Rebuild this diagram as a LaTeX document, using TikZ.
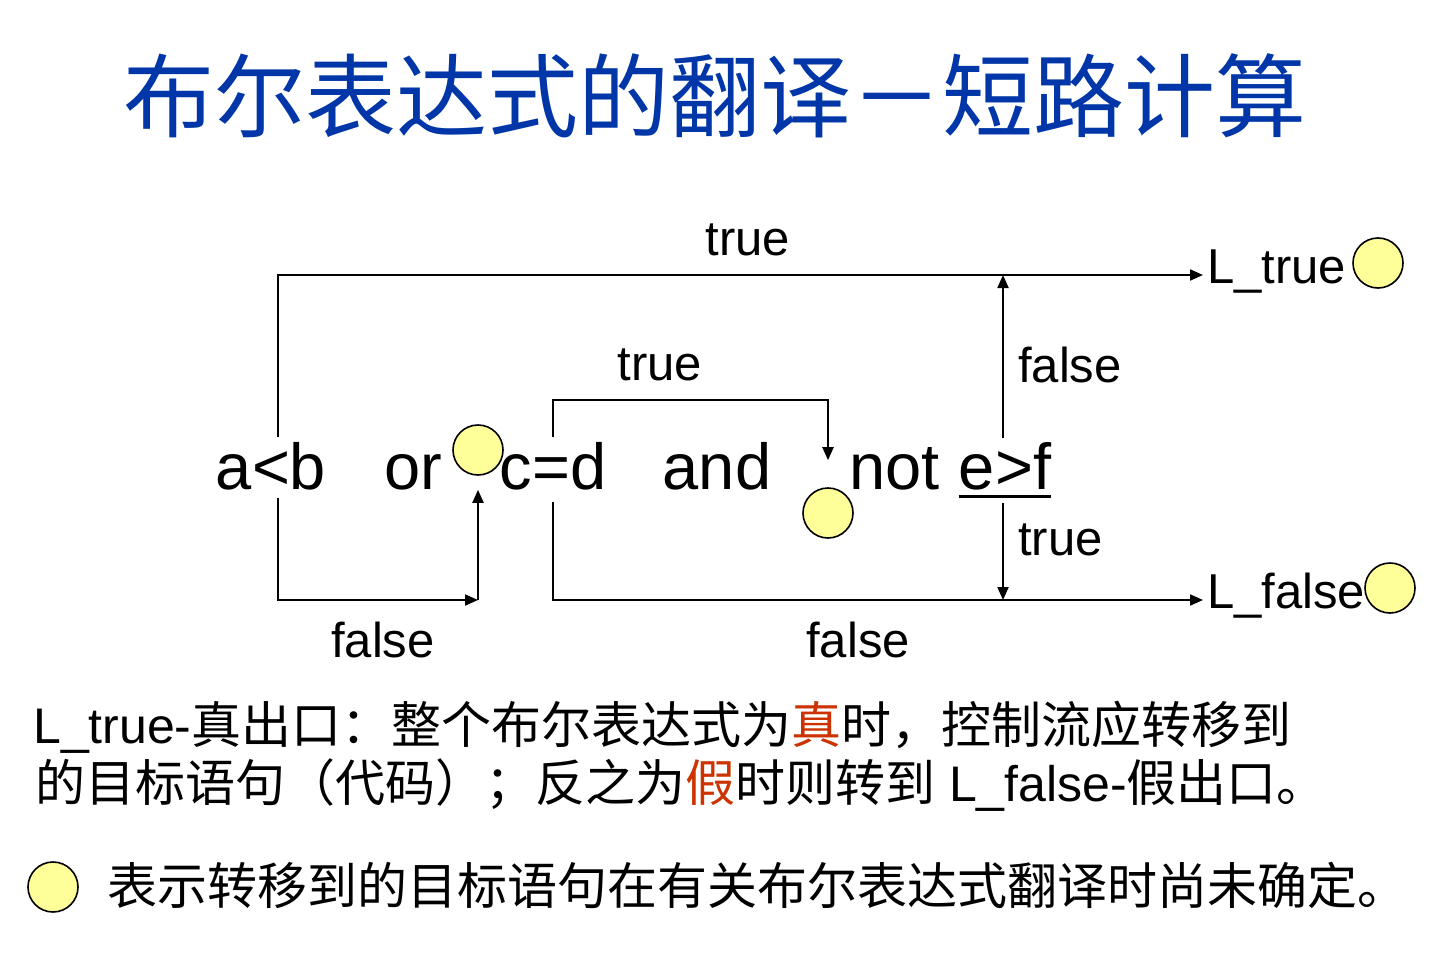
\documentclass[tikz,border=0pt]{standalone}
\usepackage{fontspec}
\setmainfont{Liberation Sans}
\newfontfamily\cjk{Noto Sans CJK SC}
\usetikzlibrary{arrows.meta,positioning,calc}
\definecolor{titleblue}{HTML}{0036A8}
\definecolor{hired}{HTML}{CC3300}
\definecolor{pending}{HTML}{FFFF99}

\begin{document}
\begin{tikzpicture}[x=1pt,y=-1pt,
  expr/.style={anchor=base,inner sep=0pt,font=\fontsize{65}{78}\selectfont},
  lbl/.style={inner sep=0pt,font=\fontsize{49}{59}\selectfont},
  note/.style={anchor=base west,inner sep=0pt,font=\fontsize{50}{60}\selectfont},
  hole/.style={circle,draw,line width=1.6pt,fill=pending,minimum size=50pt,inner sep=0pt},
  flow/.style={line width=2pt},
  jump/.style={flow,-{Triangle[length=13pt,width=11pt]}}]
  \path[use as bounding box,fill=white] (0,0) rectangle (1453,963);

  \node[inner sep=0pt,text=titleblue,font=\cjk\fontsize{91}{100}\selectfont] (title) at (715,96) {布尔表达式的翻译－短路计算};

  \node[expr] (ab) at (271,489) {a<b};
  \node[expr] (or) at (413,489) {or};
  \node[expr] (cd) at (553,489) {c=d};
  \node[expr] (and) at (717,489) {and};
  \node[expr,anchor=base west] (not) at (849,489) {not};
  \node[expr] (ef) at (1005,489) {e>f};
  \draw[line width=3pt] ([yshift=-7pt]ef.base west) -- ([yshift=-7pt]ef.base east);

  \node[hole] (h1) at (478,450) {};
  \node[hole] (h2) at (828,513) {};

  \coordinate (tIn) at (1203,275);
  \coordinate (fIn) at (1203,600);
  \coordinate (orB) at (478,600);
  \node[lbl,anchor=base west] (Lt) at ([xshift=4pt,yshift=-8pt]tIn) {L\_true};
  \node[lbl,anchor=base west] (Lf) at ([xshift=4pt,yshift=-8pt]fIn) {L\_false};
  \node[hole] (ht) at (1378,263) {};
  \node[hole] (hf) at (1390,588) {};

  \draw[jump] ([xshift=7pt,yshift=5pt]ab.north) |- (tIn);
  \draw[jump] ([xshift=7pt,yshift=-8pt]ab.south) |- (orB);
  \draw[jump] (orB) -- ([yshift=-14pt]h1.south);
  \draw[jump] ([yshift=5pt]cd.north) -- ++(0,-37) -| ([yshift=27pt]h2.north);
  \draw[jump] ([yshift=-12pt]cd.south) |- (fIn);
  \draw[jump] ([xshift=-2pt,yshift=4pt]ef.north) -- ([xshift=-2pt]ef.north |- tIn);
  \draw[jump] ([xshift=-2pt,yshift=-13pt]ef.south) -- ([xshift=-2pt]ef.south |- fIn);

  \foreach \n/\t/\a/\x/\y in {tA/true/center/748/240, tB/true/center/660/365,
                              fA/false/west/1018/365, tC/true/west/1018/540,
                              fB/false/center/383/640, fC/false/center/858/640}
    \node[lbl,anchor=\a] (\n) at (\x,\y) {\t};

  \node[note] (n1) at (33,743) {L\_true-{\cjk 真出口：整个布尔表达式为\textcolor{hired}{真}时，控制流应转移到}};
  \node[note] (n2) at (35,801) {{\cjk 的目标语句（代码）；反之为\textcolor{hired}{假}时则转到} L\_false-{\cjk 假出口。}};
  \node[hole] (hk) at (53,887) {};
  \node[note] (n3) at (107,904) {{\cjk 表示转移到的目标语句在有关布尔表达式翻译时尚未确定。}};
\end{tikzpicture}
\end{document}
